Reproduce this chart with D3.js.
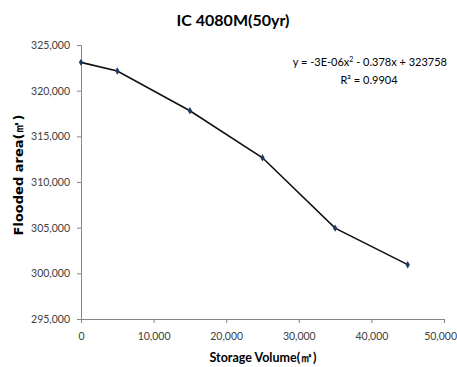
<!DOCTYPE html>
<html><head><meta charset="utf-8">
<script src="https://cdn.jsdelivr.net/npm/d3@7"></script>
<style>
html,body{margin:0;padding:0;background:#fff;}
svg{display:block;}
</style></head>
<body><svg id="c" width="457" height="367"></svg>
<script>
const storageVolume = [0, 5000, 15000, 25000, 35000, 45000];
const floodedArea = [323100, 322150, 317800, 312650, 304950, 300950];
const xTicks = [0, 10000, 20000, 30000, 40000, 50000];
const yTicks = [295000, 300000, 305000, 310000, 315000, 320000, 325000];
const title = "IC 4080M(50yr)";
const xTitle = "Storage Volume(㎡)";
const yTitle = "Flooded area(㎡)";
const eqLine1 = "y = -3E-06x";
const eqLine1b = " - 0.378x + 323758";
const eqLine2 = "R² = 0.9904";

const svg = d3.select("#c");
const font = "Lato, 'Open Sans', sans-serif";
const x = d3.scaleLinear().domain([0, 50000]).range([81, 444]);
const y = d3.scaleLinear().domain([295000, 325000]).range([319, 45]);
const fmt = d3.format(",");

const xa = svg.append("g").attr("transform", "translate(0,319)")
  .call(d3.axisBottom(x).tickValues(xTicks).tickFormat(fmt).tickSizeOuter(0).tickSize(4).tickPadding(10));
const ya = svg.append("g").attr("transform", "translate(81,0)")
  .call(d3.axisLeft(y).tickValues(yTicks).tickFormat(fmt).tickSizeOuter(0).tickSize(4).tickPadding(7));
[xa, ya].forEach(a => {
  a.select(".domain").attr("stroke", "#868686");
  a.selectAll(".tick line").attr("stroke", "#868686");
  a.selectAll("text").attr("fill", "#404040").style("font-family", font).style("font-size", "10.5px");
});
// keep the last x label inside the picture
xa.selectAll(".tick").filter((d, i, n) => i === n.length - 1).select("text")
  .attr("text-anchor", "end").attr("x", 12.5);

const pts = storageVolume.map((v, i) => [v, floodedArea[i]]);
svg.append("path").datum(pts)
  .attr("fill", "none").attr("stroke", "#111").attr("stroke-width", 1.6)
  .attr("d", d3.line().x(d => x(d[0])).y(d => y(d[1])));
svg.append("g").selectAll("path").data(pts).join("path")
  .attr("transform", d => `translate(${x(d[0])},${y(d[1])})`)
  .attr("d", d3.symbol(d3.symbolDiamond, 16)())
  .attr("fill", "#1f3864");

svg.append("text").attr("x", 233).attr("y", 26).attr("text-anchor", "middle")
  .style("font-family", font).style("font-weight", "bold").style("font-size", "16px").attr("fill", "#000").text(title);

svg.append("text").attr("x", 263).attr("y", 362).attr("text-anchor", "middle")
  .style("font-family", font).style("font-weight", "bold").style("font-size", "12.5px").attr("fill", "#000").text(xTitle);

svg.append("text").attr("transform", "translate(23,175) rotate(-90)").attr("text-anchor", "middle")
  .style("font-family", "'DejaVu Sans', sans-serif").style("font-weight", "bold").style("font-size", "13px").attr("fill", "#000").text(yTitle);

const eq = svg.append("text").attr("x", 447).attr("y", 66).attr("text-anchor", "end")
  .style("font-family", font).style("font-size", "11px").attr("fill", "#000");
eq.append("tspan").text(eqLine1);
eq.append("tspan").attr("dy", -4).style("font-size", "7px").text("2");
eq.append("tspan").attr("dy", 4).text(eqLine1b);
svg.append("text").attr("x", 369).attr("y", 84).attr("text-anchor", "middle")
  .style("font-family", font).style("font-size", "11px").attr("fill", "#000").text(eqLine2);
</script></body></html>
